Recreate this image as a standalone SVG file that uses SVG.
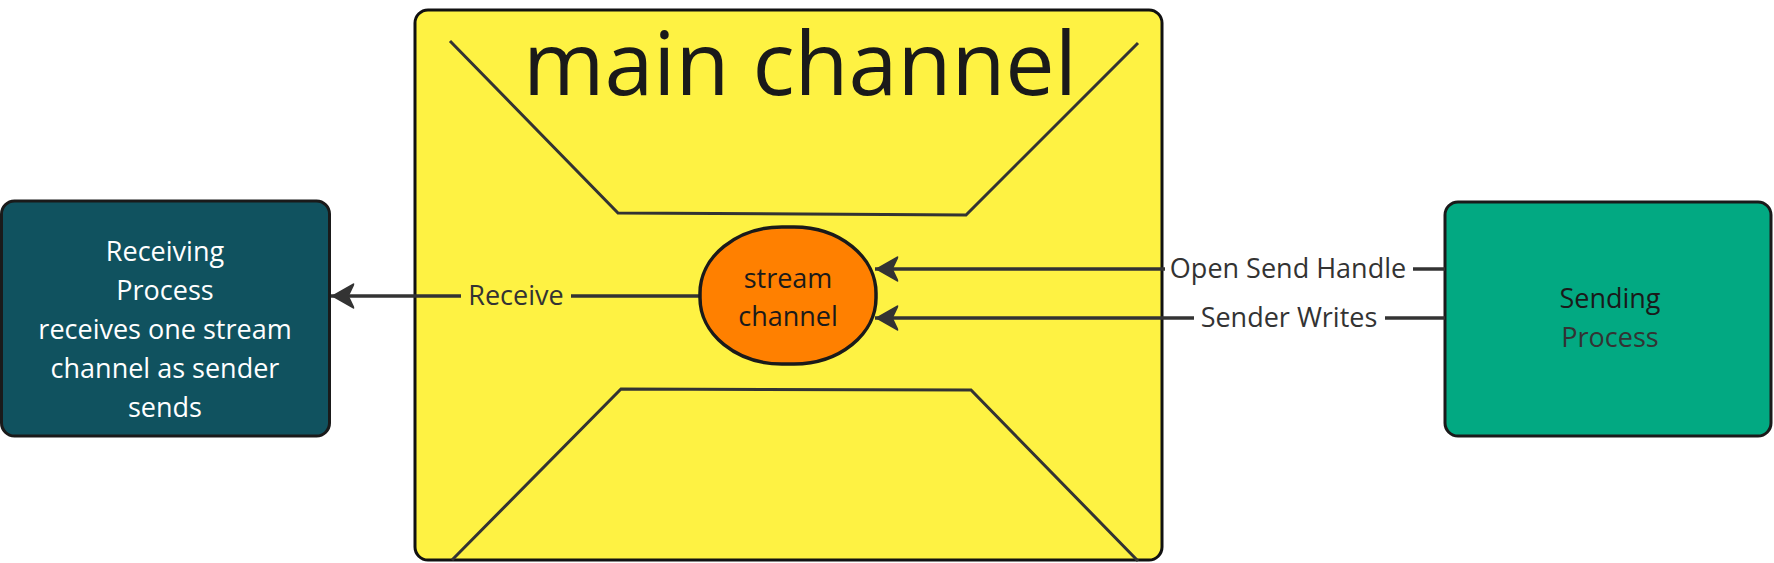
<svg xmlns="http://www.w3.org/2000/svg" width="1774" height="563" viewBox="0 0 1774 563">
<defs>
<style>
.t{font-family:"Open Sans","Noto Sans","Liberation Sans",sans-serif;font-size:27px;text-anchor:middle}
.lbl{fill:#333333}
.edge{stroke:#333333;stroke-width:3.5;fill:none}
.deco{stroke:#333333;stroke-width:3;fill:none}
</style>
<marker id="ah" markerUnits="userSpaceOnUse" markerWidth="30" markerHeight="30" viewBox="-26 -15 30 30" refX="0" refY="0" orient="auto">
<path d="M0,0 L-22,-12.5 Q-24,-13.5 -23,-10.5 L-18,0 L-23,10.5 Q-24,13.5 -22,12.5 Z" fill="#333333"/>
</marker>
</defs>
<rect width="1774" height="563" fill="#ffffff"/>
<g id="main-channel">
<rect x="415" y="10" width="747" height="550" rx="13" fill="#FEF243" stroke="#111111" stroke-width="3"/>
<path class="deco" d="M450,41 L618,213 L966,215 L1138,43"/>
<path class="deco" d="M452,560 L621,389 L971,390 L1138,561"/>
<text x="800" y="95" style="font-family:'Open Sans','Noto Sans','Liberation Sans',sans-serif;font-size:88px;text-anchor:middle" fill="#1a1a1a">main channel</text>
</g>
<g id="receiving-process">
<rect x="1.5" y="201" width="328" height="235" rx="13" fill="#10525F" stroke="#1a1a1a" stroke-width="3"/>
<text class="t" fill="#ffffff"><tspan x="165" y="261">Receiving</tspan><tspan x="165" y="300">Process</tspan><tspan x="165" y="339">receives one stream</tspan><tspan x="165" y="378">channel as sender</tspan><tspan x="165" y="417">sends</tspan></text>
</g>
<g id="sending-process">
<rect x="1445" y="202" width="326" height="234" rx="13" fill="#02A982" stroke="#1a1a1a" stroke-width="3"/>
<text class="t"><tspan x="1610" y="308" fill="#1a1a1a">Sending</tspan><tspan x="1610" y="347" fill="#333333">Process</tspan></text>
</g>
<g id="connectors">
<line class="edge" x1="699" y1="296" x2="331" y2="296" marker-end="url(#ah)"/>
<line class="edge" x1="1445" y1="269" x2="875" y2="269" marker-end="url(#ah)"/>
<line class="edge" x1="1445" y1="318" x2="875" y2="318" marker-end="url(#ah)"/>
<rect x="461" y="281" width="110" height="30" fill="#FEF243"/>
<text class="t lbl" x="516" y="305">Receive</text>
<rect x="1165" y="254" width="248" height="30" fill="#ffffff"/>
<text class="t lbl" x="1288" y="278">Open Send Handle</text>
<rect x="1194" y="303" width="191" height="30" fill="#ffffff"/>
<text class="t lbl" x="1289" y="327">Sender Writes</text>
</g>
<g id="stream-channel">
<rect x="700" y="227" width="176" height="137" rx="82" ry="66" fill="#FF8000" stroke="#1a1a1a" stroke-width="3.5"/>
<text class="t" fill="#1a1a1a"><tspan x="788" y="288">stream</tspan><tspan x="788" y="326">channel</tspan></text>
</g>
</svg>
